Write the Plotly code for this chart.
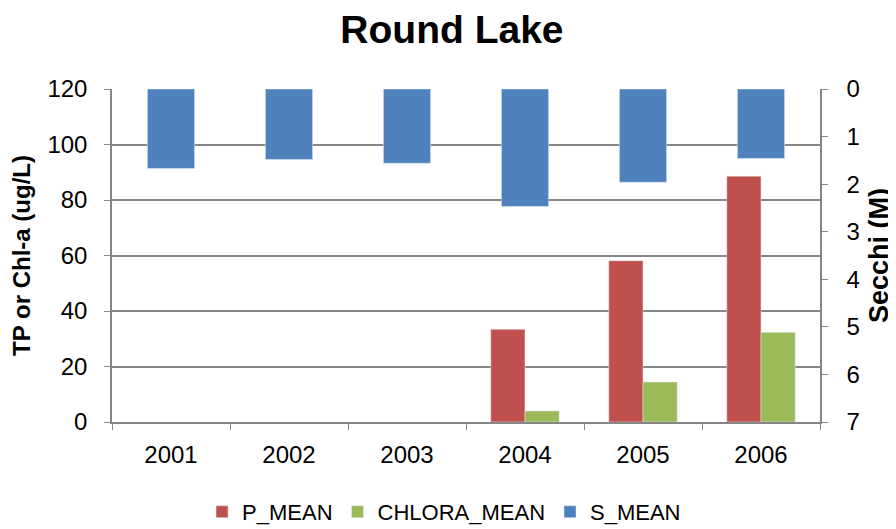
import plotly.graph_objects as go

years = ["2001", "2002", "2003", "2004", "2005", "2006"]
p_mean = [None, None, None, 33.4, 58.1, 88.6]
chlora_mean = [None, None, None, 4.0, 14.4, 32.3]
s_mean = [1.67, 1.48, 1.56, 2.47, 1.96, 1.46]

left_ticks = [0, 20, 40, 60, 80, 100, 120]
right_ticks = [0, 1, 2, 3, 4, 5, 6, 7]

FONT = "Liberation Sans"
GRID = "#868686"

fig = go.Figure()
fig.add_trace(go.Bar(x=years, y=p_mean, name="P_MEAN", marker_color="#C0504D",
                     width=0.29, offset=-0.29, yaxis="y"))
fig.add_trace(go.Bar(x=years, y=chlora_mean, name="CHLORA_MEAN", marker_color="#9BBB59",
                     width=0.29, offset=0.0, yaxis="y"))
fig.add_trace(go.Bar(x=years, y=s_mean, name="S_MEAN", marker_color="#4F81BD",
                     width=0.40, offset=-0.20, yaxis="y2"))

fig.update_layout(
    width=896, height=529,
    margin=dict(l=104, r=84, t=81, b=115, autoexpand=False),
    paper_bgcolor="white", plot_bgcolor="white",
    barmode="overlay",
    title=dict(text="<b>Round Lake</b>", x=0.4955, xanchor="center", y=0.96, yanchor="middle",
               font=dict(family=FONT, size=39, color="black")),
    font=dict(family=FONT, size=24, color="black"),
    xaxis=dict(type="category", showline=True, linecolor=GRID, linewidth=1.5,
               ticks="outside", tickson="boundaries", ticklen=6, tickcolor=GRID,
               showgrid=False, tickfont=dict(size=24), automargin=False,
               ticklabelstandoff=10),
    yaxis=dict(range=[0, 120], tickvals=left_ticks, showline=True, linecolor=GRID,
               linewidth=1.5, ticks="outside", ticklen=6, tickcolor=GRID,
               showgrid=True, gridcolor=GRID, gridwidth=1.5, zeroline=False,
               title=dict(text="<b>TP or Chl-a (ug/L)</b>",
                          font=dict(family=FONT, size=24), standoff=12),
               tickfont=dict(size=24), automargin=False, ticklabelstandoff=12),
    yaxis2=dict(range=[7, 0], tickvals=right_ticks, overlaying="y", side="right",
                showline=True, linecolor=GRID, linewidth=1.5, ticks="outside",
                ticklen=6, tickcolor=GRID, showgrid=False, zeroline=False,
                title=dict(text="<b>Secchi (M)</b>",
                           font=dict(family=FONT, size=27), standoff=10),
                tickfont=dict(size=24), automargin=False, ticklabelstandoff=14),
    legend=dict(orientation="h", x=0.469, xanchor="center", y=-0.27, yanchor="middle",
                font=dict(size=22), traceorder="normal", itemwidth=30),
    showlegend=True,
)

fig.write_html("out.html")
